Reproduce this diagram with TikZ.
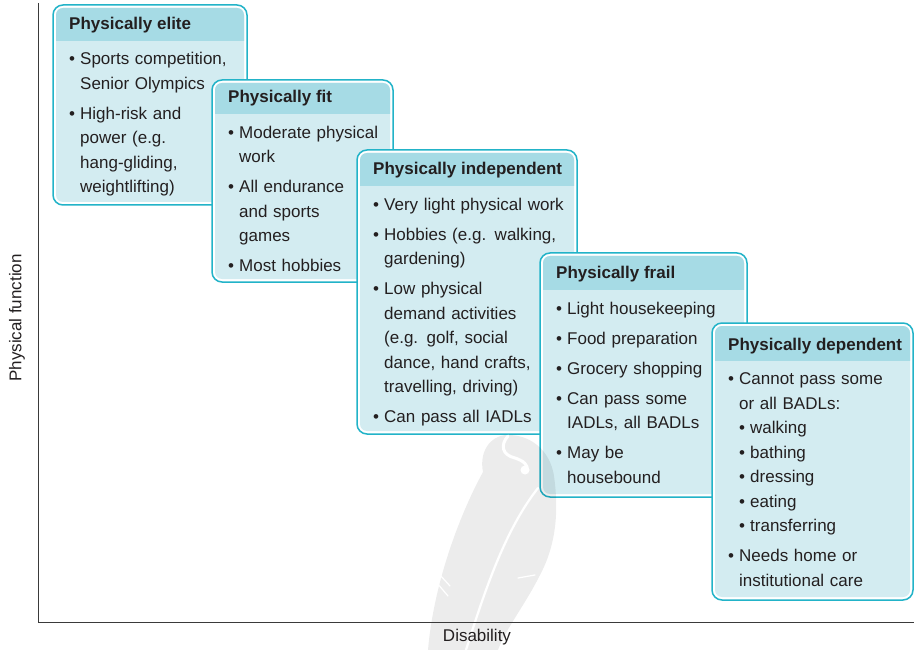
\documentclass[tikz,border=0pt]{standalone}
\usepackage{fontspec}
\setmainfont{Liberation Sans}
\usetikzlibrary{calc}

\definecolor{rimcyan}{HTML}{22B3C8}
\definecolor{bandblue}{HTML}{A6DBE5}
\definecolor{bodyblue}{HTML}{D3ECF1}
\definecolor{inkgray}{HTML}{231F20}
\definecolor{axisgray}{HTML}{3A3A3A}

% bullet items: first one, following ones (with a small gap), and nested ones
\newcommand\firstpt[1]{\par\hangindent=11pt\hangafter=1\noindent\strut\makebox[11pt][l]{\textbullet}#1}
\newcommand\nextpt[1]{\par\vspace{5.5pt}\firstpt{#1}}
\newcommand\subpt[1]{\par\hangindent=22pt\hangafter=1\noindent\strut\hspace*{11pt}\makebox[11pt][l]{\textbullet}#1}

\tikzset{
  panelframe/.style={draw=rimcyan, line width=1.5pt, fill=white, rounded corners=10pt,
    rectangle, inner sep=0pt, outer sep=0pt},
  headtext/.style={font=\fontsize{17}{24.5}\selectfont\bfseries, text=inkgray, inner sep=0pt},
  bodytext/.style={font=\fontsize{17}{24.5}\selectfont, text=inkgray, inner sep=0pt,
    text width=260pt, align=left},
  axisline/.style={draw=axisgray, line width=0.9pt},
  axislabel/.style={font=\fontsize{17}{20}\selectfont, text=inkgray, inner sep=0pt},
  feather/.style={fill=black, fill opacity=0.075},
  featherline/.style={draw=white, line cap=round},
}

% \panel{name}{left}{top}{right}{bottom}{band height}{body offset}{heading}{items}
% (y measured downwards from the top edge of the picture)
\newcommand\panel[9]{%
  \node[panelframe, anchor=north west, minimum width={(#4-#2)*1pt},
        minimum height={(#5-#3)*1pt}] (#1) at (#2,-#3) {};
  \begin{scope}
    \clip[rounded corners=7pt] ([shift={(3pt,-3pt)}]#1.north west)
                               rectangle ([shift={(-3pt,3pt)}]#1.south east);
    \fill[bodyblue] (#1.north west) rectangle (#1.south east);
    \fill[bandblue] (#1.north west) rectangle ([yshift=-#6pt]#1.north east);
  \end{scope}
  \node[headtext, anchor=base west] (#1-head) at ([shift={(16pt,-#6pt+11pt)}]#1.north west) {#8};
  \node[bodytext, anchor=north west] (#1-body) at ([shift={(16pt,-#7pt)}]#1.north west) {#9\par};
}

\begin{document}
\begin{tikzpicture}[x=1pt,y=1pt]
\useasboundingbox (0,0) rectangle (914,-650);

% the five panels, stepping down to the right
\panel{elite}{53}{5}{247}{205}{36}{35}{Physically elite}{%
  \firstpt{Sports competition,\newline Senior Olympics}%
  \nextpt{High-risk and\newline power (e.g.\newline hang-gliding,\newline weightlifting)}}

\panel{fit}{212}{80}{393}{282}{34}{33.5}{Physically fit}{%
  \firstpt{Moderate physical\newline work}%
  \nextpt{All endurance\newline and sports\newline games}%
  \nextpt{Most hobbies}}

\panel{indep}{357}{150}{577}{434}{36}{35.5}{Physically independent}{%
  \firstpt{Very light physical work}%
  \nextpt{Hobbies (e.g. walking,\newline gardening)}%
  \nextpt{Low physical\newline demand activities\newline (e.g. golf, social\newline dance, hand crafts,\newline travelling, driving)}%
  \nextpt{Can pass all IADLs}}

\panel{frail}{540}{253}{747}{497}{37}{36.5}{Physically frail}{%
  \firstpt{Light housekeeping}%
  \nextpt{Food preparation}%
  \nextpt{Grocery shopping}%
  \nextpt{Can pass some\newline IADLs, all BADLs}%
  \nextpt{May be\newline housebound}}

\panel{dep}{712}{323}{913}{600}{38}{37}{Physically dependent}{%
  \firstpt{Cannot pass some\newline or all BADLs:}%
  \subpt{walking}%
  \subpt{bathing}%
  \subpt{dressing}%
  \subpt{eating}%
  \subpt{transferring}%
  \nextpt{Needs home or\newline institutional care}}

% faint feather mark near the foot of the chart
\fill[feather] (428,-650) .. controls (434,-580) and (462,-510) .. (483,-472)
      .. controls (479,-452) and (490,-436) .. (506,-435)
      .. controls (530,-434) and (550,-450) .. (554,-476)
      .. controls (559,-512) and (556,-545) .. (540,-575)
      .. controls (525,-605) and (505,-630) .. (498,-650) -- cycle;
\draw[featherline, line width=2.2pt] (466,-650) .. controls (485,-590) and (505,-530) .. (538,-488);
\draw[featherline, line width=3pt] (508,-436) .. controls (500,-445) and (502,-455) .. (515,-458)
      .. controls (524,-461) and (528,-465) .. (527,-470);
\fill[white] (525,-470) circle (4.5);
\draw[featherline, line width=1.2pt] (437,-583) -- (448,-596);
\draw[featherline, line width=1.2pt] (440,-575) -- (450,-586);
\draw[featherline, line width=1.2pt] (518,-578) -- (535,-575);

% axes
\coordinate (top) at (38,-3);
\coordinate (origin) at (38,-622);
\coordinate (right) at (914,-622);
\draw[axisline] (top) -- (origin) -- (right);
\node[axislabel, rotate=90] (yl) at (17,-318) {Physical function};
\node[axislabel] (xl) at (477,-637) {Disability};

\end{tikzpicture}
\end{document}
